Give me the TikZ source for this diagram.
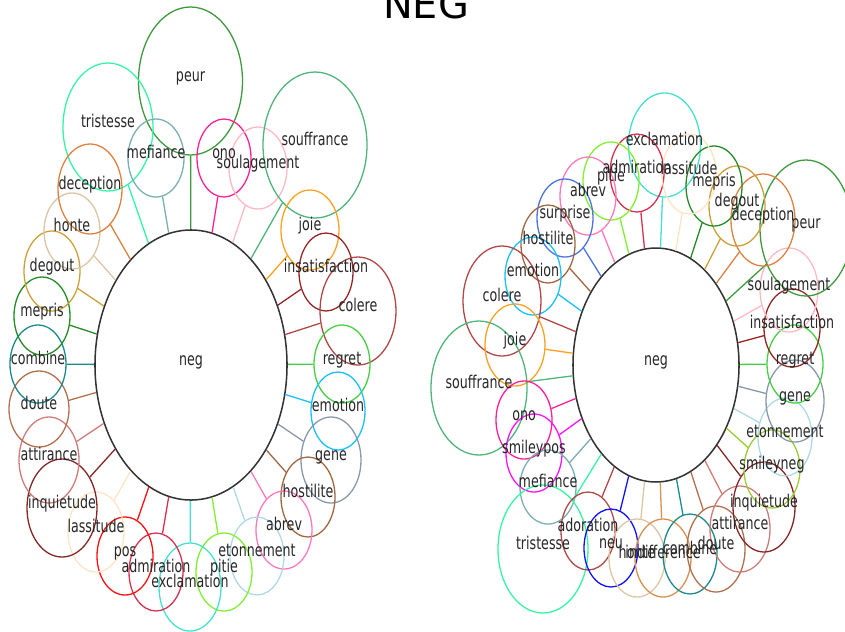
\documentclass[tikz,border=0pt]{standalone}
\usepackage{fontspec}
\setmainfont{DejaVu Sans}
\newfontfamily\labfont[FakeStretch=0.72]{DejaVu Sans}
\usetikzlibrary{shapes.geometric}
\definecolor{cForest}{HTML}{3C9A3C}
\definecolor{cSpring}{HTML}{33F5A5}
\definecolor{cCadet}{HTML}{7AAEB0}
\definecolor{cDeepPink}{HTML}{FF1F96}
\definecolor{cPink}{HTML}{FFB8C4}
\definecolor{cSeaGreen}{HTML}{4DB57A}
\definecolor{cOrange}{HTML}{FFA020}
\definecolor{cDarkRed}{HTML}{952525}
\definecolor{cBrown}{HTML}{B04848}
\definecolor{cLime}{HTML}{45CF45}
\definecolor{cSky}{HTML}{18C0FF}
\definecolor{cSlate}{HTML}{8898A8}
\definecolor{cSienna}{HTML}{A0663F}
\definecolor{cHotPink}{HTML}{FF78BC}
\definecolor{cLightBlue}{HTML}{AED8E6}
\definecolor{cLawn}{HTML}{80F030}
\definecolor{cTurq}{HTML}{45E0D0}
\definecolor{cCrimson}{HTML}{D83050}
\definecolor{cRed}{HTML}{FF1010}
\definecolor{cBisque}{HTML}{FFE4C4}
\definecolor{cMaroon}{HTML}{852525}
\definecolor{cIndian}{HTML}{D07A7A}
\definecolor{cDoute}{HTML}{B07050}
\definecolor{cTeal}{HTML}{1A8A8A}
\definecolor{cGreen}{HTML}{248A24}
\definecolor{cGold}{HTML}{CCA038}
\definecolor{cTan}{HTML}{DCC4A4}
\definecolor{cChoc}{HTML}{DD8040}
\definecolor{cPeru}{HTML}{D89050}
\definecolor{cRoyal}{HTML}{4A72E0}
\definecolor{cMagenta}{HTML}{FF10FF}
\definecolor{cYellowGreen}{HTML}{9ACD32}
\definecolor{cBlue}{HTML}{1010FF}
\begin{document}
\begin{tikzpicture}[x=0.03cm,y=-0.03cm,
  sat/.style={ellipse,draw,inner sep=0pt,line width=1.1pt},
  hub/.style={ellipse,draw=black!80,inner sep=0pt,line width=1.3pt},
  conn/.style={line width=1.1pt},
  lab/.style={anchor=base,inner sep=0pt,text=black!85,font=\labfont\fontsize{15}{18}\selectfont}]
\useasboundingbox (0,0) rectangle (845,631);
\node[font=\fontsize{34}{40}\selectfont,anchor=base,text=black] (title) at (426,18) {NEG};
% left
\node[hub,minimum width=163.9pt,minimum height=230.5pt] (aneg) at (191,365) {};
\node[lab] (aneg-t) at (191,365) {neg};
\foreach \nm/\x/\y/\rx/\ry/\c in {
 peur/190.5/81/52/74/cForest, tristesse/108/127/45/64/cSpring,
 mefiance/156/158/28/39/cCadet, ono/224/158/27/39/cDeepPink,
 soulagement/258/168/29/41/cPink, souffrance/315/145/52/73/cSeaGreen,
 joie/310/230/29/40/cOrange, insatisfaction/326/272/27/39/cDarkRed,
 colere/358/311/38/54/cBrown, regret/342/364/28/39/cLime,
 emotion/338/411/27/39/cSky, gene/331/460/30/43/cSlate,
 hostilite/308/497/27/40/cSienna, abrev/284/530/28/39/cHotPink,
 etonnement/257/556/27/39/cLightBlue, pitie/224/572/28/39/cLawn,
 exclamation/190/587/31/44/cTurq, admiration/156/572/27/39/cCrimson,
 pos/125/556/28/39/cRed, lassitude/96/532/28/40/cBisque,
 inquietude/62/508/35/49/cMaroon, attirance/49/460/30/43/cIndian,
 doute/39/409/30/38/cDoute, combine/38/364/28/39/cTeal,
 mepris/42/316/28/39/cGreen, degout/52/271/28/40/cGold,
 honte/72/231/28/38/cTan, deception/90/189/32/45/cChoc}{
  \pgfmathsetmacro\w{2*\rx*0.85358}
  \pgfmathsetmacro\h{2*\ry*0.85358}
  \node[sat,draw=\c,minimum width=\w pt,minimum height=\h pt] (a\nm) at (\x,\y) {};
  \draw[conn,draw=\c] (aneg) -- (a\nm);
}
\foreach \nm/\x/\y in {
 peur/190.5/81, tristesse/108/127, mefiance/156/158, ono/224/158,
 soulagement/258/168, souffrance/315/145, joie/310/230, insatisfaction/326/272,
 colere/358/311, regret/342/364, emotion/338/411, gene/331/460,
 hostilite/308/497, abrev/284/530, etonnement/257/556, pitie/224/572,
 exclamation/190/587, admiration/156/572, pos/125/556, lassitude/96/532,
 inquietude/62/508, attirance/49/460, doute/39/409, combine/38/364,
 mepris/42/316, degout/52/271, honte/72/231, deception/90/189}{
  \node[lab] (a\nm-t) at (\x,\y) {\nm};
}
% right
\node[hub,minimum width=141.7pt,minimum height=199.7pt] (bneg) at (656,365) {};
\node[lab] (bneg-t) at (656,365) {neg};
\foreach \nm/\x/\y/\rx/\ry/\c in {
 exclamation/664.5/145/36/52/cTurq, admiration/637/173/27/39/cCrimson,
 pitie/611/181/28/39/cLawn, abrev/588/196/28/39/cHotPink,
 surprise/565/218/28/39/cRoyal, hostilite/548/244/27/39/cSienna,
 emotion/533/276/28/39/cSky, colere/502/301/39/55/cBrown,
 joie/515/345/30/41/cOrange, souffrance/479/388/48/67/cSeaGreen,
 ono/524/420/28/39/cDeepPink, smileypos/534/453/28/39/cMagenta,
 mefiance/548/487/28/37/cCadet, tristesse/543/549/45/64/cSpring,
 adoration/588/531/27/39/cBrown, neu/611/548/27/39/cBlue,
 honte/637/558/28/39/cTan, indifference/663/558/28/39/cPeru,
 combine/690/554/27/40/cTeal, doute/716/549/29/43/cDoute,
 attirance/740/529/30/43/cIndian, inquietude/764/507/31/45/cMaroon,
 smileyneg/772/469/28/39/cYellowGreen, etonnement/785/437/27/39/cLightBlue,
 gene/795/401/29/41/cSlate, regret/795/364/28/39/cLime,
 insatisfaction/792/328/28/39/cDarkRed, soulagement/789/290/29/42/cPink,
 peur/806/228/46/68/cForest, deception/763/220/32/46/cChoc,
 degout/737/206/28/40/cGold, mepris/714/186/28/40/cGreen,
 lassitude/689/174/27/40/cBisque}{
  \pgfmathsetmacro\w{2*\rx*0.85358}
  \pgfmathsetmacro\h{2*\ry*0.85358}
  \node[sat,draw=\c,minimum width=\w pt,minimum height=\h pt] (b\nm) at (\x,\y) {};
  \draw[conn,draw=\c] (bneg) -- (b\nm);
}
\foreach \nm/\x/\y in {
 exclamation/664.5/145, admiration/637/173, pitie/611/181, abrev/588/196,
 surprise/565/218, hostilite/548/244, emotion/533/276, colere/502/301,
 joie/515/345, souffrance/479/388, ono/524/420, smileypos/534/453,
 mefiance/548/487, tristesse/543/549, adoration/588/531, neu/611/548,
 honte/637/558, indifference/663/558, combine/690/554, doute/716/549,
 attirance/740/529, inquietude/764/507, smileyneg/772/469, etonnement/785/437,
 gene/795/401, regret/795/364, insatisfaction/792/328, soulagement/789/290,
 peur/806/228, deception/763/220, degout/737/206, mepris/714/186,
 lassitude/689/174}{
  \node[lab] (b\nm-t) at (\x,\y) {\nm};
}
\end{tikzpicture}
\end{document}
